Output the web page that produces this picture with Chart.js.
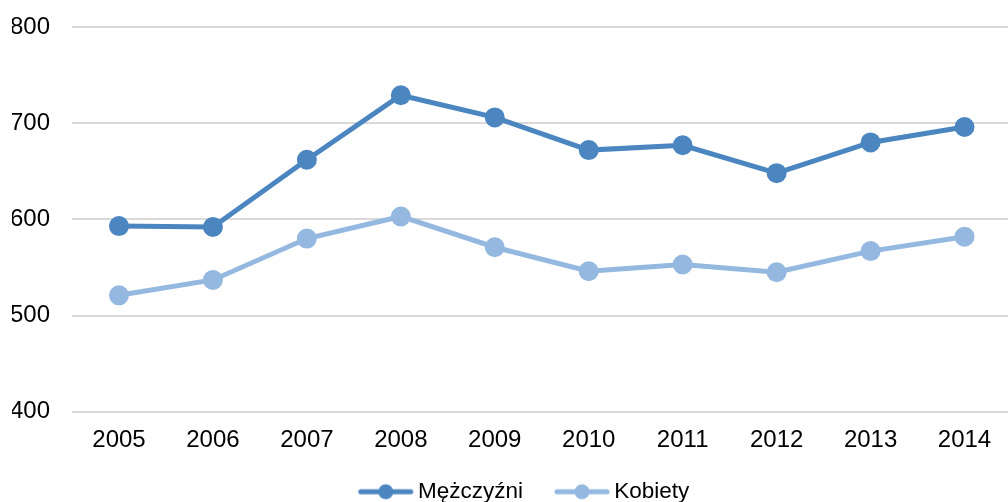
<!DOCTYPE html>
<html>
<head>
<meta charset="utf-8">
<script src="https://cdn.jsdelivr.net/npm/chart.js@4"></script>
<style>
  html, body { margin: 0; padding: 0; background: #fff; overflow: hidden; }
  #wrap { width: 1024px; height: 502px; position: relative; }
</style>
</head>
<body>
<div id="wrap"><canvas id="chart"></canvas></div>
<script>
const years = ['2005', '2006', '2007', '2008', '2009', '2010', '2011', '2012', '2013', '2014'];
const men = [593, 592, 662, 729, 706, 672, 677, 648, 680, 696];
const women = [521, 537, 580, 603, 571, 546, 553, 545, 567, 582];
const yTicks = [400, 500, 600, 700, 800];

const menColor = '#4b86c0';
const womenColor = '#94b8e0';
const tickFont = { family: 'Liberation Sans, Arial', size: 24 };
const legendFont = { family: 'Liberation Sans, Arial', size: 22.5 };

// legend marker: line with a dot, with some blank room on the left
function marker(color) {
    const c = document.createElement('canvas');
    c.width = 82; c.height = 18;
    const g = c.getContext('2d');
    g.strokeStyle = color;
    g.lineWidth = 5;
    g.lineCap = 'round';
    g.beginPath(); g.moveTo(25, 9); g.lineTo(75, 9); g.stroke();
    g.fillStyle = color;
    g.beginPath(); g.arc(50, 9, 7.5, 0, Math.PI * 2); g.fill();
    return c;
}

new Chart(document.getElementById('chart'), {
    type: 'line',
    data: {
        labels: years,
        datasets: [
            {
                label: 'Mężczyźni',
                data: men,
                borderColor: menColor,
                backgroundColor: menColor,
                borderWidth: 5,
                pointRadius: 7.5,
                tension: 0
            },
            {
                label: 'Kobiety',
                data: women,
                borderColor: womenColor,
                backgroundColor: womenColor,
                borderWidth: 5,
                pointRadius: 7.5,
                tension: 0
            }
        ]
    },
    options: {
        responsive: true,
        maintainAspectRatio: false,
        animation: false,
        layout: { padding: { top: 27, left: 12, right: 0, bottom: -11 } },
        plugins: {
            tooltip: { enabled: false },
            legend: {
                position: 'bottom',
                labels: {
                    usePointStyle: true,
                    pointStyleWidth: 60,
                    generateLabels: function(chart) {
                        return chart.data.datasets.map((ds, i) => ({
                            text: ds.label,
                            pointStyle: marker(ds.borderColor),
                            fillStyle: ds.borderColor,
                            strokeStyle: ds.borderColor,
                            lineWidth: 0,
                            datasetIndex: i,
                            fontColor: '#000'
                        }));
                    },
                    color: '#000',
                    font: legendFont,
                    padding: 20,
                    boxHeight: 18
                }
            }
        },
        scales: {
            x: {
                offset: true,
                grid: { display: false },
                border: { display: false },
                ticks: { color: '#000', font: tickFont, padding: 6, maxRotation: 0 }
            },
            y: {
                min: 400,
                max: 800,
                afterBuildTicks: axis => { axis.ticks = yTicks.map(v => ({ value: v })); },
                afterFit: axis => { axis.width = 60; axis.paddingTop = 0; },
                grid: { color: '#d9d9d9', lineWidth: 2, drawTicks: false },
                border: { display: false },
                ticks: { color: '#000', font: tickFont, padding: 22 }
            }
        }
    }
});
</script>
</body>
</html>
